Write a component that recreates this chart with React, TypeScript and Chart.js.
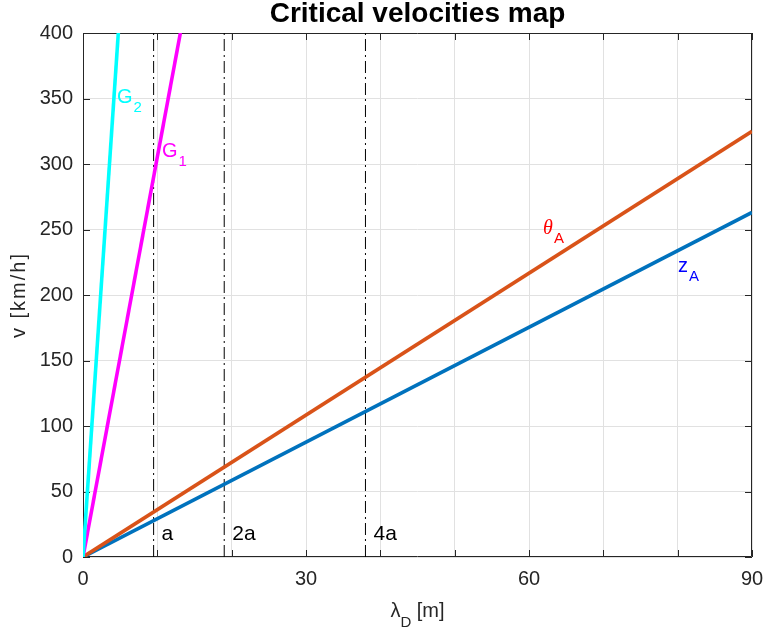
import { useEffect, useRef } from "react";
import { Chart, registerables } from "chart.js";

Chart.register(...registerables);

// ---- data ----
const thetaA_x = [0, 90];
const thetaA_v = [0, 325];
const zA_x = [0, 90];
const zA_v = [0, 263];
const G1_x = [0, 13.1];
const G1_v = [0, 400];
const G2_x = [0, 4.75];
const G2_v = [0, 400];

const aMarks = [9.5, 19, 38];
const aMarkLabels = ["a", "2a", "4a"];

const xLabelTicks = [0, 30, 60, 90];
const xMin = 0;
const xMax = 90;
const xStep = 10;
const yMin = 0;
const yMax = 400;
const yStep = 50;

// curve label anchors (data coordinates)
const curveLabelText = ["G", "G", "θ", "z"];
const curveLabelSub = ["2", "1", "A", "A"];
const curveLabelX = [4.57, 10.63, 61.9, 80.05];
const curveLabelY = [346.6, 305.3, 246.6, 217.6];
const curveLabelColor = ["#00FFFF", "#FF00FF", "#FF0000", "#0000FF"];

const FONT = '"Liberation Sans", Arial, Helvetica, sans-serif';
const AXIS_COLOR = "#262626";

const toPts = (xs: number[], ys: number[]) => xs.map((x, i) => ({ x, y: ys[i] }));

const overlayPlugin = {
  id: "matlabOverlay",
  beforeDatasetsDraw(chart: any) {
    const { ctx, chartArea } = chart;
    const xs = chart.scales.x;
    const ys = chart.scales.y;
    const { left, right, top, bottom } = chartArea;
    ctx.save();
    ctx.strokeStyle = AXIS_COLOR;
    ctx.lineWidth = 1;
    ctx.beginPath();
    ctx.rect(Math.round(left) + 0.5, Math.round(top) + 0.5, Math.round(right - left) - 1, Math.round(bottom - top) - 1);
    ctx.stroke();
    const tl = 7;
    ctx.beginPath();
    for (let v = xMin; v <= xMax; v += xStep) {
      const px = Math.round(xs.getPixelForValue(v)) + 0.5;
      ctx.moveTo(px, bottom);
      ctx.lineTo(px, bottom - tl);
      ctx.moveTo(px, top);
      ctx.lineTo(px, top + tl);
    }
    for (let v = yMin; v <= yMax; v += yStep) {
      const py = Math.round(ys.getPixelForValue(v)) + 0.5;
      ctx.moveTo(left, py);
      ctx.lineTo(left + tl, py);
      ctx.moveTo(right, py);
      ctx.lineTo(right - tl, py);
    }
    ctx.stroke();
    ctx.restore();
  },
  afterDraw(chart: any) {
    const { ctx, chartArea } = chart;
    const xs = chart.scales.x;
    const ys = chart.scales.y;
    const { left, right, top, bottom } = chartArea;
    const cx = (left + right) / 2;
    ctx.save();

    // title
    ctx.fillStyle = "#000";
    ctx.font = `bold 28px ${FONT}`;
    ctx.textAlign = "center";
    ctx.textBaseline = "alphabetic";
    ctx.fillText("Critical velocities map", cx, 22);

    // x axis title with subscript
    ctx.fillStyle = AXIS_COLOR;
    const mainF = `20px ${FONT}`;
    const subF = `15px ${FONT}`;
    ctx.font = mainF;
    const wL = ctx.measureText("λ").width;
    const wR = ctx.measureText(" [m]").width;
    ctx.font = subF;
    const wD = ctx.measureText("D").width;
    const total = wL + wD + wR;
    const x0 = cx - total / 2;
    ctx.textAlign = "left";
    ctx.font = mainF;
    ctx.fillText("λ", x0, 617);
    ctx.font = subF;
    ctx.fillText("D", x0 + wL, 627);
    ctx.font = mainF;
    ctx.fillText(" [m]", x0 + wL + wD, 617);

    // y axis title
    ctx.save();
    ctx.translate(25, (top + bottom) / 2);
    ctx.rotate(-Math.PI / 2);
    ctx.textAlign = "center";
    ctx.font = mainF;
    try { (ctx as any).letterSpacing = "2px"; } catch (e) {}
    ctx.fillText("v [km/h]", 0, 0);
    ctx.restore();

    // a / 2a / 4a labels
    ctx.fillStyle = "#000";
    ctx.font = `21px ${FONT}`;
    ctx.textAlign = "left";
    aMarks.forEach((v, i) => {
      ctx.fillText(aMarkLabels[i], xs.getPixelForValue(v) + 8, ys.getPixelForValue(13));
    });

    // curve labels
    curveLabelText.forEach((t, i) => {
      const px = xs.getPixelForValue(curveLabelX[i]);
      const py = ys.getPixelForValue(curveLabelY[i]);
      ctx.fillStyle = curveLabelColor[i];
      ctx.font = t === "θ" ? `italic 20px "Liberation Serif", serif` : mainF;
      ctx.fillText(t, px, py);
      const w = ctx.measureText(t).width;
      ctx.font = subF;
      ctx.fillText(curveLabelSub[i], px + w + 1, py + 9);
    });

    ctx.restore();
  },
};

export default function App() {
  const ref = useRef<HTMLCanvasElement | null>(null);
  useEffect(() => {
    if (!ref.current) return;
    const lineDs = (label: string, xs: number[], ys: number[], color: string) => ({
      label,
      data: toPts(xs, ys),
      borderColor: color,
      backgroundColor: color,
      borderWidth: 3.6,
      pointRadius: 0,
      showLine: true,
      fill: false,
      tension: 0,
    });
    const datasets: any[] = [
      lineDs("G2", G2_x, G2_v, "#00FFFF"),
      lineDs("G1", G1_x, G1_v, "#FF00FF"),
      lineDs("thetaA", thetaA_x, thetaA_v, "#D95319"),
      lineDs("zA", zA_x, zA_v, "#0072BD"),
      ...aMarks.map((v, i) => ({
        label: aMarkLabels[i],
        data: [
          { x: v, y: yMin },
          { x: v, y: yMax },
        ],
        borderColor: "#000",
        borderWidth: 1,
        borderDash: [12, 4, 2, 4],
        pointRadius: 0,
        showLine: true,
        fill: false,
      })),
    ];
    const chart = new Chart(ref.current, {
      type: "line",
      data: { datasets },
      plugins: [overlayPlugin],
      options: {
        animation: false,
        responsive: true,
        maintainAspectRatio: false,
        layout: { padding: { top: 33, right: 11, left: 0, bottom: 0 } },
        plugins: { legend: { display: false }, tooltip: { enabled: false }, title: { display: false } },
        scales: {
          x: {
            type: "linear",
            min: xMin,
            max: xMax,
            border: { display: false },
            grid: { color: "#e1e1e1", lineWidth: 1, drawTicks: false },
            ticks: {
              stepSize: xStep,
              autoSkip: false,
              maxRotation: 0,
              padding: 10,
              color: AXIS_COLOR,
              font: { family: FONT, size: 20 },
              callback: (v: any) => (xLabelTicks.includes(Number(v)) ? String(v) : ""),
            },
            afterFit: (s: any) => {
              s.height = 77;
              s.paddingLeft = 0;
              s.paddingRight = 0;
            },
          },
          y: {
            type: "linear",
            min: yMin,
            max: yMax,
            border: { display: false },
            grid: { color: "#e1e1e1", lineWidth: 1, drawTicks: false },
            ticks: {
              stepSize: yStep,
              padding: 10,
              color: AXIS_COLOR,
              font: { family: FONT, size: 20 },
            },
            afterFit: (s: any) => {
              s.width = 83;
              s.paddingTop = 0;
              s.paddingBottom = 0;
            },
          },
        },
      } as any,
    });
    return () => chart.destroy();
  }, []);
  return (
    <div style={{ position: "fixed", left: 0, top: 0, width: 763, height: 634, background: "#fff" }}>
      <canvas ref={ref} />
    </div>
  );
}
